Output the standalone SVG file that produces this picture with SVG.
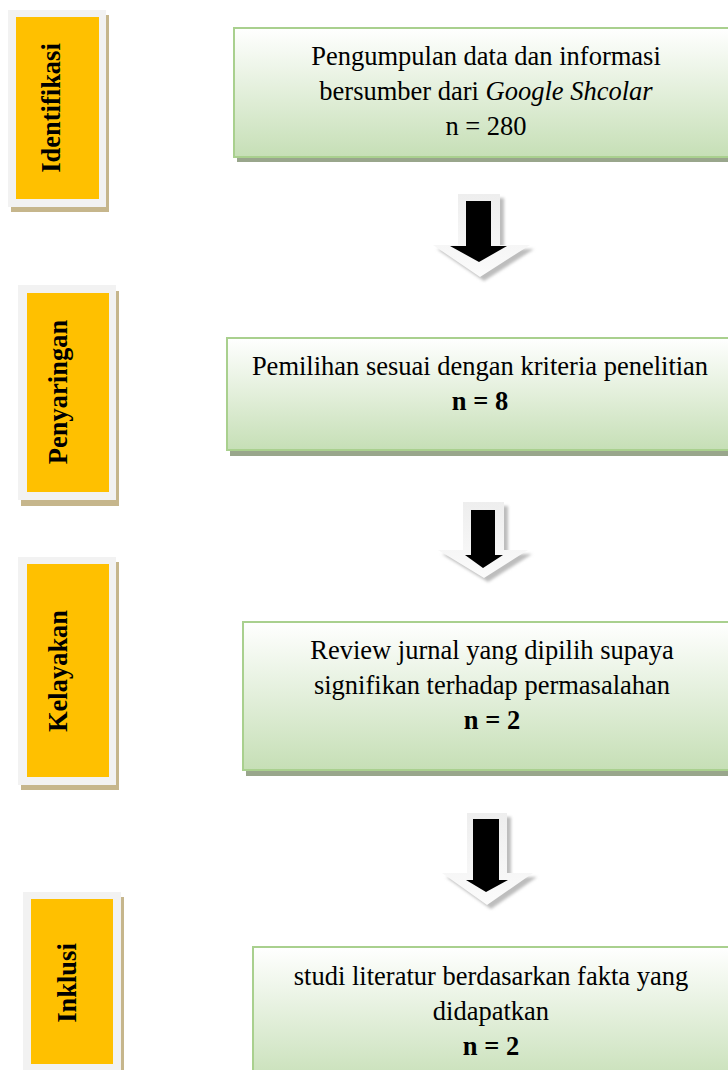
<svg xmlns="http://www.w3.org/2000/svg" width="728" height="1070" viewBox="0 0 728 1070">
<defs>
<linearGradient id="gbox" x1="0" y1="0" x2="0" y2="1">
<stop offset="0" stop-color="#ffffff"/>
<stop offset="1" stop-color="#c6dfb6"/>
</linearGradient>
<linearGradient id="garr" x1="0" y1="0" x2="0" y2="1">
<stop offset="0" stop-color="#eeeeee"/>
<stop offset="1" stop-color="#fbfbfb"/>
</linearGradient>
<filter id="blur" x="-20%" y="-20%" width="140%" height="140%">
<feGaussianBlur stdDeviation="1.5"/>
</filter>
<style>
.lblout{fill:#f2f2f2}
.lblsh{fill:#c6b68c}
.lblin{fill:#ffc000}
.lbl{font-family:"Liberation Serif","Times New Roman",serif;font-weight:bold;font-size:26.5px;fill:#000;text-anchor:middle}
.boxsh{fill:#99a68c}
.box{fill:url(#gbox);stroke:#a9d08e;stroke-width:2}
.txt{font-family:"Liberation Serif","Times New Roman",serif;font-size:26.5px;fill:#000;text-anchor:middle}
.b{font-weight:bold}
.arrsh{fill:#bdbdbd;filter:url(#blur)}
.arrw{fill:url(#garr)}
.arrb{fill:#000}
</style>
</defs>
<rect width="728" height="1070" fill="#ffffff"/>

<g id="label-identifikasi">
<rect class="lblsh" x="11" y="15" width="98" height="197"/>
<rect class="lblout" x="8" y="10" width="98" height="197"/>
<rect class="lblin" x="16" y="17" width="83" height="182"/>
<text class="lbl" transform="translate(60,108) rotate(-90)">Identifikasi</text>
</g>

<g id="label-penyaringan">
<rect class="lblsh" x="21" y="291" width="98" height="215"/>
<rect class="lblout" x="18" y="285" width="98" height="215"/>
<rect class="lblin" x="27" y="293" width="82" height="199"/>
<text class="lbl" transform="translate(67,392) rotate(-90)">Penyaringan</text>
</g>

<g id="label-kelayakan">
<rect class="lblsh" x="21" y="562" width="98" height="228"/>
<rect class="lblout" x="18" y="557" width="98" height="228"/>
<rect class="lblin" x="27" y="564" width="82" height="213"/>
<text class="lbl" transform="translate(67,671) rotate(-90)">Kelayakan</text>
</g>

<g id="label-inklusi">
<rect class="lblsh" x="26" y="897" width="98" height="190"/>
<rect class="lblout" x="23" y="892" width="98" height="190"/>
<rect class="lblin" x="31" y="899" width="82" height="165"/>
<text class="lbl" transform="translate(76,983) rotate(-90)">Inklusi</text>
</g>

<g id="box-pengumpulan">
<rect class="boxsh" x="237" y="33" width="510" height="129"/>
<rect class="box" x="234" y="28" width="510" height="129"/>
<text class="txt" x="486" y="65">Pengumpulan data dan informasi</text>
<text class="txt" x="486" y="100">bersumber dari <tspan font-style="italic">Google Shcolar</tspan></text>
<text class="txt" x="486" y="135">n = 280</text>
</g>

<g id="box-pemilihan">
<rect class="boxsh" x="230" y="343" width="510" height="113"/>
<rect class="box" x="227" y="338" width="510" height="112"/>
<text class="txt" x="480" y="375">Pemilihan sesuai dengan kriteria penelitian</text>
<text class="txt b" x="480" y="410">n = 8</text>
</g>

<g id="box-review">
<rect class="boxsh" x="246" y="627" width="510" height="149"/>
<rect class="box" x="243" y="622" width="510" height="148"/>
<text class="txt" x="492" y="659">Review jurnal yang dipilih supaya</text>
<text class="txt" x="492" y="694">signifikan terhadap permasalahan</text>
<text class="txt b" x="492" y="729">n = 2</text>
</g>

<g id="box-studi">
<rect class="boxsh" x="256" y="952" width="510" height="140"/>
<rect class="box" x="253" y="947" width="510" height="140"/>
<text class="txt" x="491" y="985">studi literatur berdasarkan fakta yang</text>
<text class="txt" x="491" y="1020">didapatkan</text>
<text class="txt b" x="491" y="1055">n = 2</text>
</g>

<g id="connectors">
<g id="arrow-1">
<polygon class="arrsh" points="462,198 504,198 504,249 534,249 484,281 437,249 462,249"/>
<polygon class="arrw" points="458,194 500,194 500,245 530,245 480,277 433,245 458,245"/>
<polygon class="arrb" points="466,201 491,201 491,246 507,246 479,262 450,246 466,246"/>
</g>
<g id="arrow-2">
<polygon class="arrsh" points="467,506 508,506 508,554 532,554 488,582 442,554 467,554"/>
<polygon class="arrw" points="463,502 504,502 504,550 528,550 484,578 438,550 463,550"/>
<polygon class="arrb" points="471,510 495,510 495,555 503,555 483,568 465,555 471,555"/>
</g>
<g id="arrow-3">
<polygon class="arrsh" points="471,817 511,817 511,877 537,877 491,909 446,877 471,877"/>
<polygon class="arrw" points="467,813 507,813 507,873 533,873 487,905 442,873 467,873"/>
<polygon class="arrb" points="473,819 499,819 499,880 508,880 486,892 466,880 473,880"/>
</g>
</g>
</svg>
